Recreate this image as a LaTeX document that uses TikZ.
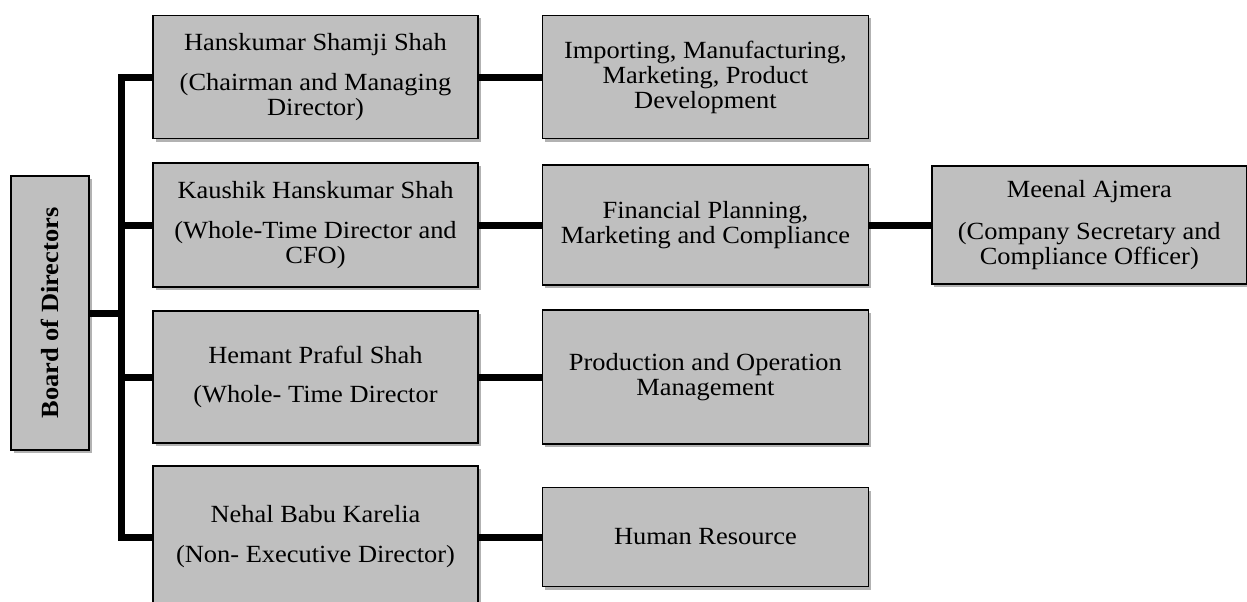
\documentclass[tikz,border=0pt]{standalone}
\usepackage{fontspec}
\setmainfont{Liberation Serif}[FakeStretch=1.07]
\usetikzlibrary{positioning, shadows}
\definecolor{boxgray}{HTML}{BFBFBF}
\tikzstyle{orgbox} = [
    rectangle,
    draw=black,
    line width=1.4pt,
    fill=boxgray,
    align=center,
    inner sep=0pt,
    drop shadow={shadow xshift=2.5pt, shadow yshift=-3pt, fill=black, opacity=0.3},
    font=\fontsize{24.7}{25}\selectfont
]
\tikzstyle{link} = [line width=7pt, line join=miter]

\begin{document}
\begin{tikzpicture}[x=1pt, y=-1pt, node distance=63pt]
    \useasboundingbox (0,0) rectangle (1247,602);
    \clip (0,0) rectangle (1247,602);
    % Kästen
    \node (board) [orgbox, minimum width=78pt, minimum height=274pt] at (50,313) {\rotatebox{90}{\textbf{Board of Directors}}};
    \node (hss) [orgbox, minimum width=325pt, minimum height=123pt] at (315.5,77) {Hanskumar Shamji Shah\\[15pt](Chairman and Managing\\Director)};
    \node (khs) [orgbox, minimum width=325pt, minimum height=124pt] at (315.5,225) {Kaushik Hanskumar Shah\\[15pt](Whole-Time Director and\\CFO)};
    \node (hps) [orgbox, minimum width=325pt, minimum height=132pt] at (315.5,377) {Hemant Praful Shah\\[14pt](Whole- Time Director};
    \node (nbk) [orgbox, minimum width=325pt, minimum height=142pt] at (315.5,537) {Nehal Babu Karelia\\[15pt](Non- Executive Director)};
    \node (imp) [orgbox, minimum width=326pt, minimum height=123pt, right=of hss] {Importing, Manufacturing,\\Marketing, Product\\Development};
    \node (fin) [orgbox, minimum width=326pt, minimum height=120pt, right=of khs] {Financial Planning,\\Marketing and Compliance};
    \node (pom) [orgbox, minimum width=326pt, minimum height=134pt, right=of hps] {Production and Operation\\Management};
    \node (hr) [orgbox, minimum width=326pt, minimum height=99pt, right=of nbk] {Human Resource};
    \node (ma) [orgbox, minimum width=315pt, minimum height=118pt, right=62pt of fin] {Meenal Ajmera\\[17pt](Company Secretary and\\Compliance Officer)};
    % Linien
    \coordinate (bustop) at (121,77);
    \coordinate (busbot) at (121,537);
    \draw [link] (hss.west) -- (bustop) -- (busbot) -- (nbk.west);
    \draw [link] (board.east) -- (board.east -| bustop);
    \draw [link] (khs.west -| bustop) -- (khs.west);
    \draw [link] (hps.west -| bustop) -- (hps.west);
    \draw [link] (hss) -- (imp);
    \draw [link] (khs) -- (fin);
    \draw [link] (hps) -- (pom);
    \draw [link] (nbk) -- (hr);
    \draw [link] (fin) -- (ma);
\end{tikzpicture}
\end{document}
